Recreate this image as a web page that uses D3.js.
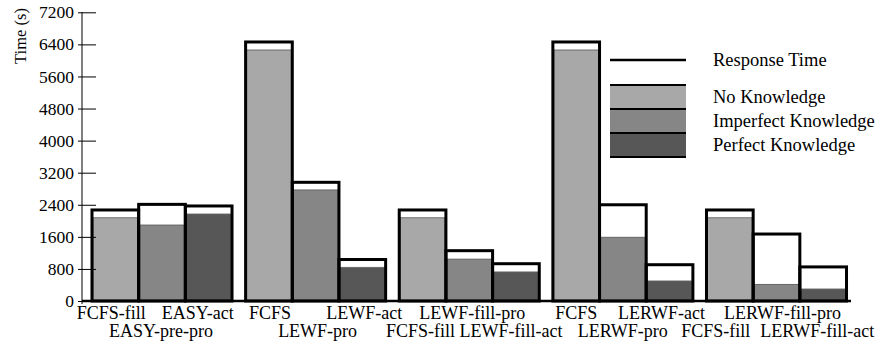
<!DOCTYPE html>
<html>
<head>
<meta charset="utf-8">
<script src="https://cdn.jsdelivr.net/npm/d3@7"></script>
<style>
  html, body { margin: 0; padding: 0; background: #fff; }
  svg { display: block; }
  svg text { font-family: "Liberation Serif", "Times New Roman", serif !important; fill: #000; }
</style>
</head>
<body>
<svg id="chart" width="890" height="350"></svg>
<script>
// Scheduling policies, one bar each, in plotting order (five groups of three)
const policies = [
  "FCFS-fill", "EASY-pre-pro", "EASY-act",
  "FCFS", "LEWF-pro", "LEWF-act",
  "FCFS-fill", "LEWF-fill-pro", "LEWF-fill-act",
  "FCFS", "LERWF-pro", "LERWF-act",
  "FCFS-fill", "LERWF-fill-pro", "LERWF-fill-act"
];
const groups = ["G1", "G2", "G3", "G4", "G5"];

// Mean response time (s): full height of each outlined bar
const responseTime = [
  2270, 2410, 2370,
  6460, 2960, 1035,
  2270, 1255, 930,
  6460, 2400, 905,
  2270, 1670, 850
];
// Shaded part of each bar (s)
const shadedTime = [
  2075, 1895, 2170,
  6260, 2770, 840,
  2075, 1045, 725,
  6260, 1590, 500,
  2075, 415, 300
];
// Knowledge level used by each policy
const knowledge = [
  "No Knowledge", "Imperfect Knowledge", "Perfect Knowledge",
  "No Knowledge", "Imperfect Knowledge", "Perfect Knowledge",
  "No Knowledge", "Imperfect Knowledge", "Perfect Knowledge",
  "No Knowledge", "Imperfect Knowledge", "Perfect Knowledge",
  "No Knowledge", "Imperfect Knowledge", "Perfect Knowledge"
];
const knowledgeLevels = ["No Knowledge", "Imperfect Knowledge", "Perfect Knowledge"];
const yTicks = [0, 800, 1600, 2400, 3200, 4000, 4800, 5600, 6400, 7200];

// ---- layout ----
const fills = { "No Knowledge": "#a8a8a8", "Imperfect Knowledge": "#868686", "Perfect Knowledge": "#575757" };
const edge = { "No Knowledge": "#555", "Imperfect Knowledge": "#555", "Perfect Knowledge": "#666" };
// tick labels alternate between two text rows; small horizontal nudges keep them apart
const labelRow = [0, 1, 0, 0, 1, 0, 1, 0, 1, 0, 1, 0, 1, 0, 1];
const labelNudge = [-4, -1, -11, 1, 2, 2, -2, 3, -5, 0, 0, -8, -14, 6, -6];

const svg = d3.select("#chart");
const axisX = 82;
const y = d3.scaleLinear().domain([0, 7200]).range([301, 12.3]);

const xGroup = d3.scaleBand().domain(groups).range([axisX, 856.5])
  .paddingInner(0.0885).paddingOuter(0.065);
const xBar = d3.scaleBand().domain([0, 1, 2]).range([0, xGroup.bandwidth()]).padding(0);

const bars = policies.map((p, i) => ({
  i, policy: p, group: groups[Math.floor(i / 3)], slot: i % 3,
  resp: responseTime[i], shade: shadedTime[i], know: knowledge[i]
}));
const bx = d => xGroup(d.group) + xBar(d.slot);
const bw = xBar.bandwidth();

const g = svg.append("g");

// white body of each bar
g.selectAll("rect.body").data(bars).join("rect")
  .attr("class", "body")
  .attr("x", bx).attr("width", bw)
  .attr("y", d => y(d.resp)).attr("height", d => y(0) - y(d.resp))
  .attr("fill", "#fff");

// shaded part
g.selectAll("rect.shade").data(bars).join("rect")
  .attr("class", "shade")
  .attr("x", d => bx(d) + 1).attr("width", bw - 2)
  .attr("y", d => y(d.shade)).attr("height", d => y(0) - y(d.shade))
  .attr("fill", d => fills[d.know])
  .attr("stroke", d => edge[d.know]).attr("stroke-width", 0.8);

// thick outline showing the response time
g.selectAll("rect.outline").data(bars).join("rect")
  .attr("class", "outline")
  .attr("x", bx).attr("width", bw)
  .attr("y", d => y(d.resp)).attr("height", d => y(0) - y(d.resp))
  .attr("fill", "none").attr("stroke", "#000").attr("stroke-width", 3);

// baseline
svg.append("line")
  .attr("x1", axisX).attr("x2", 851)
  .attr("y1", y(0)).attr("y2", y(0))
  .attr("stroke", "#000").attr("stroke-width", 2.5);

// y axis
const yAxis = svg.append("g").attr("transform", `translate(${axisX},0)`)
  .call(d3.axisLeft(y).tickValues(yTicks).tickFormat(d3.format("d"))
    .tickSizeInner(-14).tickSizeOuter(0).tickPadding(8));
yAxis.attr("font-family", null).attr("font-size", null);
yAxis.select(".domain").remove();
yAxis.selectAll(".tick line").attr("x1", -4).attr("x2", 14).attr("stroke", "#000");
yAxis.selectAll(".tick text").attr("font-size", 17.5);
svg.append("line")
  .attr("x1", axisX).attr("x2", axisX).attr("y1", 12).attr("y2", 304)
  .attr("stroke", "#000").attr("stroke-width", 1);

// y title
svg.append("text")
  .attr("transform", "translate(25.5,36) rotate(-90)")
  .attr("text-anchor", "middle")
  .attr("font-size", 16.5)
  .text("Time (s)");

// category labels on two rows
svg.selectAll("text.cat").data(bars).join("text")
  .attr("class", "cat")
  .attr("x", d => bx(d) + bw / 2 + labelNudge[d.i])
  .attr("y", d => labelRow[d.i] === 0 ? 318.5 : 337)
  .attr("text-anchor", "middle")
  .attr("font-size", 18)
  .text(d => d.policy);

// legend
const lgX = 610, lgW = 76, lgText = 713;
svg.append("line").attr("x1", lgX).attr("x2", lgX + lgW).attr("y1", 60).attr("y2", 60)
  .attr("stroke", "#000").attr("stroke-width", 2.5);
svg.append("text").attr("x", lgText).attr("y", 66).attr("font-size", 18.5).text("Response Time");

const swTop = 85, swH = 24;
const sw = svg.append("g");
sw.selectAll("rect").data(knowledgeLevels).join("rect")
  .attr("x", lgX).attr("width", lgW)
  .attr("y", (d, k) => swTop + k * swH).attr("height", swH)
  .attr("fill", d => fills[d]);
sw.selectAll("line").data(d3.range(knowledgeLevels.length + 1)).join("line")
  .attr("x1", lgX).attr("x2", lgX + lgW)
  .attr("y1", k => swTop + k * swH).attr("y2", k => swTop + k * swH)
  .attr("stroke", "#000").attr("stroke-width", 2.2);
sw.selectAll("text").data(knowledgeLevels).join("text")
  .attr("x", lgText).attr("y", (d, k) => swTop + k * swH + swH / 2 + 6)
  .attr("font-size", 18.5)
  .text(d => d);
</script>
</body>
</html>
